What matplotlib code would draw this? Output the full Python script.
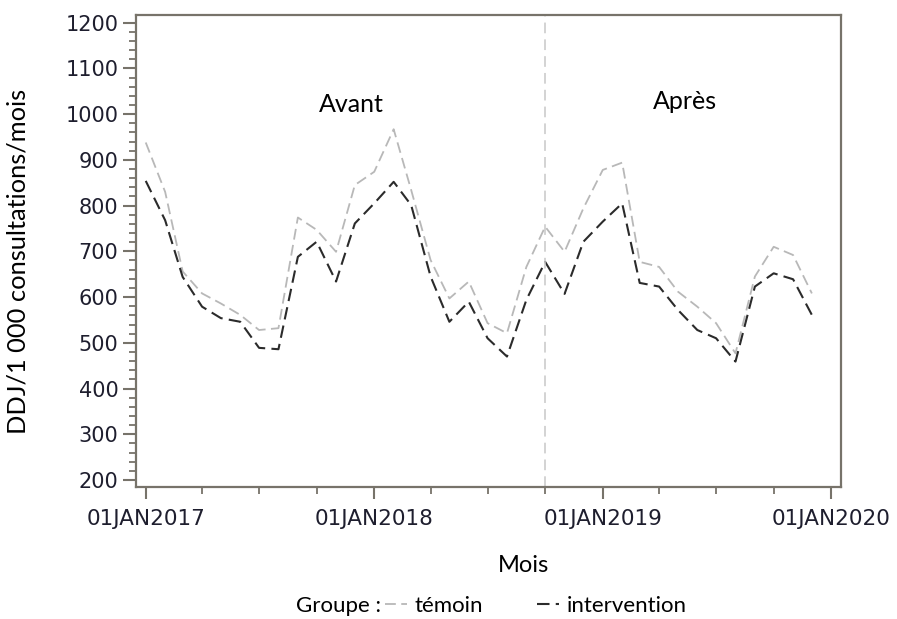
#Consommation DDJ avant / après intervention
import matplotlib
matplotlib.use("Agg")
import matplotlib.pyplot as plt
import matplotlib.dates as mdates
from matplotlib.ticker import MultipleLocator
import pandas as pd

# données mensuelles
mois = pd.date_range("2017-01-01", "2019-12-01", freq="MS")
temoin = [938, 830, 656, 608, 586, 561, 528, 532, 774, 747, 699, 845,
          874, 967, 834, 681, 597, 634, 543, 521, 666, 754, 699, 794,
          878, 894, 677, 666, 612, 579, 543, 477, 645, 710, 692, 608]
intervention = [854, 768, 644, 579, 554, 546, 489, 486, 688, 721, 634, 761,
                805, 852, 801, 645, 546, 590, 510, 470, 594, 677, 607, 721,
                765, 805, 631, 623, 572, 528, 510, 459, 623, 652, 639, 561]
date_coupure = pd.Timestamp("2018-10-01")
periodes = ["Avant", "Après"]

texte = "Lato"
axe_couleur = "#77736a"
tick_couleur = "#1e1e2e"

fig = plt.figure(figsize=(8.97, 6.19), dpi=100)
ax = fig.add_axes([0.1513, 0.2132, 0.7859, 0.7626])

l1, = ax.plot(mois, temoin, color="#b8b8b8", lw=1.3, dashes=(6, 3), label="témoin")
l2, = ax.plot(mois, intervention, color="#2b2b2b", lw=1.5, dashes=(6, 3), label="intervention")
ax.axvline(date_coupure, color="#c8c8c8", lw=1.1, dashes=(7, 4))

ax.set_xlim(pd.Timestamp("2016-12-16"), pd.Timestamp("2020-01-16"))
ax.set_ylim(184.7, 1216.8)

ax.xaxis.set_major_locator(mdates.YearLocator())
ax.xaxis.set_minor_locator(mdates.MonthLocator(bymonth=[4, 7, 10]))
ax.xaxis.set_major_formatter(mdates.DateFormatter("01JAN%Y"))
ax.yaxis.set_major_locator(MultipleLocator(100))
ax.yaxis.set_minor_locator(MultipleLocator(20))

for s in ax.spines.values():
    s.set_color(axe_couleur)
    s.set_linewidth(1.6)
ax.tick_params(axis="y", which="major", length=9.5, width=1.5, color=axe_couleur, pad=3,
               labelsize=15, labelcolor=tick_couleur)
ax.tick_params(axis="y", which="minor", length=5, width=1.3, color=axe_couleur)
ax.tick_params(axis="x", which="major", length=8.5, width=1.5, color=axe_couleur, pad=7,
               labelsize=15.5, labelcolor=tick_couleur)
ax.tick_params(axis="x", which="minor", length=5, width=1.3, color=axe_couleur)
for lab in ax.get_xticklabels() + ax.get_yticklabels():
    lab.set_family("DejaVu Sans")

ax.text(pd.Timestamp("2017-11-25"), 1022, periodes[0], ha="center", va="center",
        family=texte, fontsize=18)
ax.text(pd.Timestamp("2019-05-12"), 1028, periodes[1], ha="center", va="center",
        family=texte, fontsize=18)

fig.text(0.020, 0.577, "DDJ/1 000 consultations/mois", rotation=90, ha="center",
         va="center", family=texte, fontsize=18.3)
fig.text(0.584, 0.087, "Mois", ha="center", va="center", family=texte, fontsize=17)
fig.text(0.330, 0.021, "Groupe :", ha="left", va="center", family=texte, fontsize=16)
fig.legend(handles=[l1, l2], loc="center left", bbox_to_anchor=(0.429, 0.021), ncol=2,
           frameon=False, handlelength=1.0, handletextpad=0.35, columnspacing=2.4,
           prop={"family": texte, "size": 16}, borderpad=0, borderaxespad=0)

plt.savefig("out.png", dpi=100)
